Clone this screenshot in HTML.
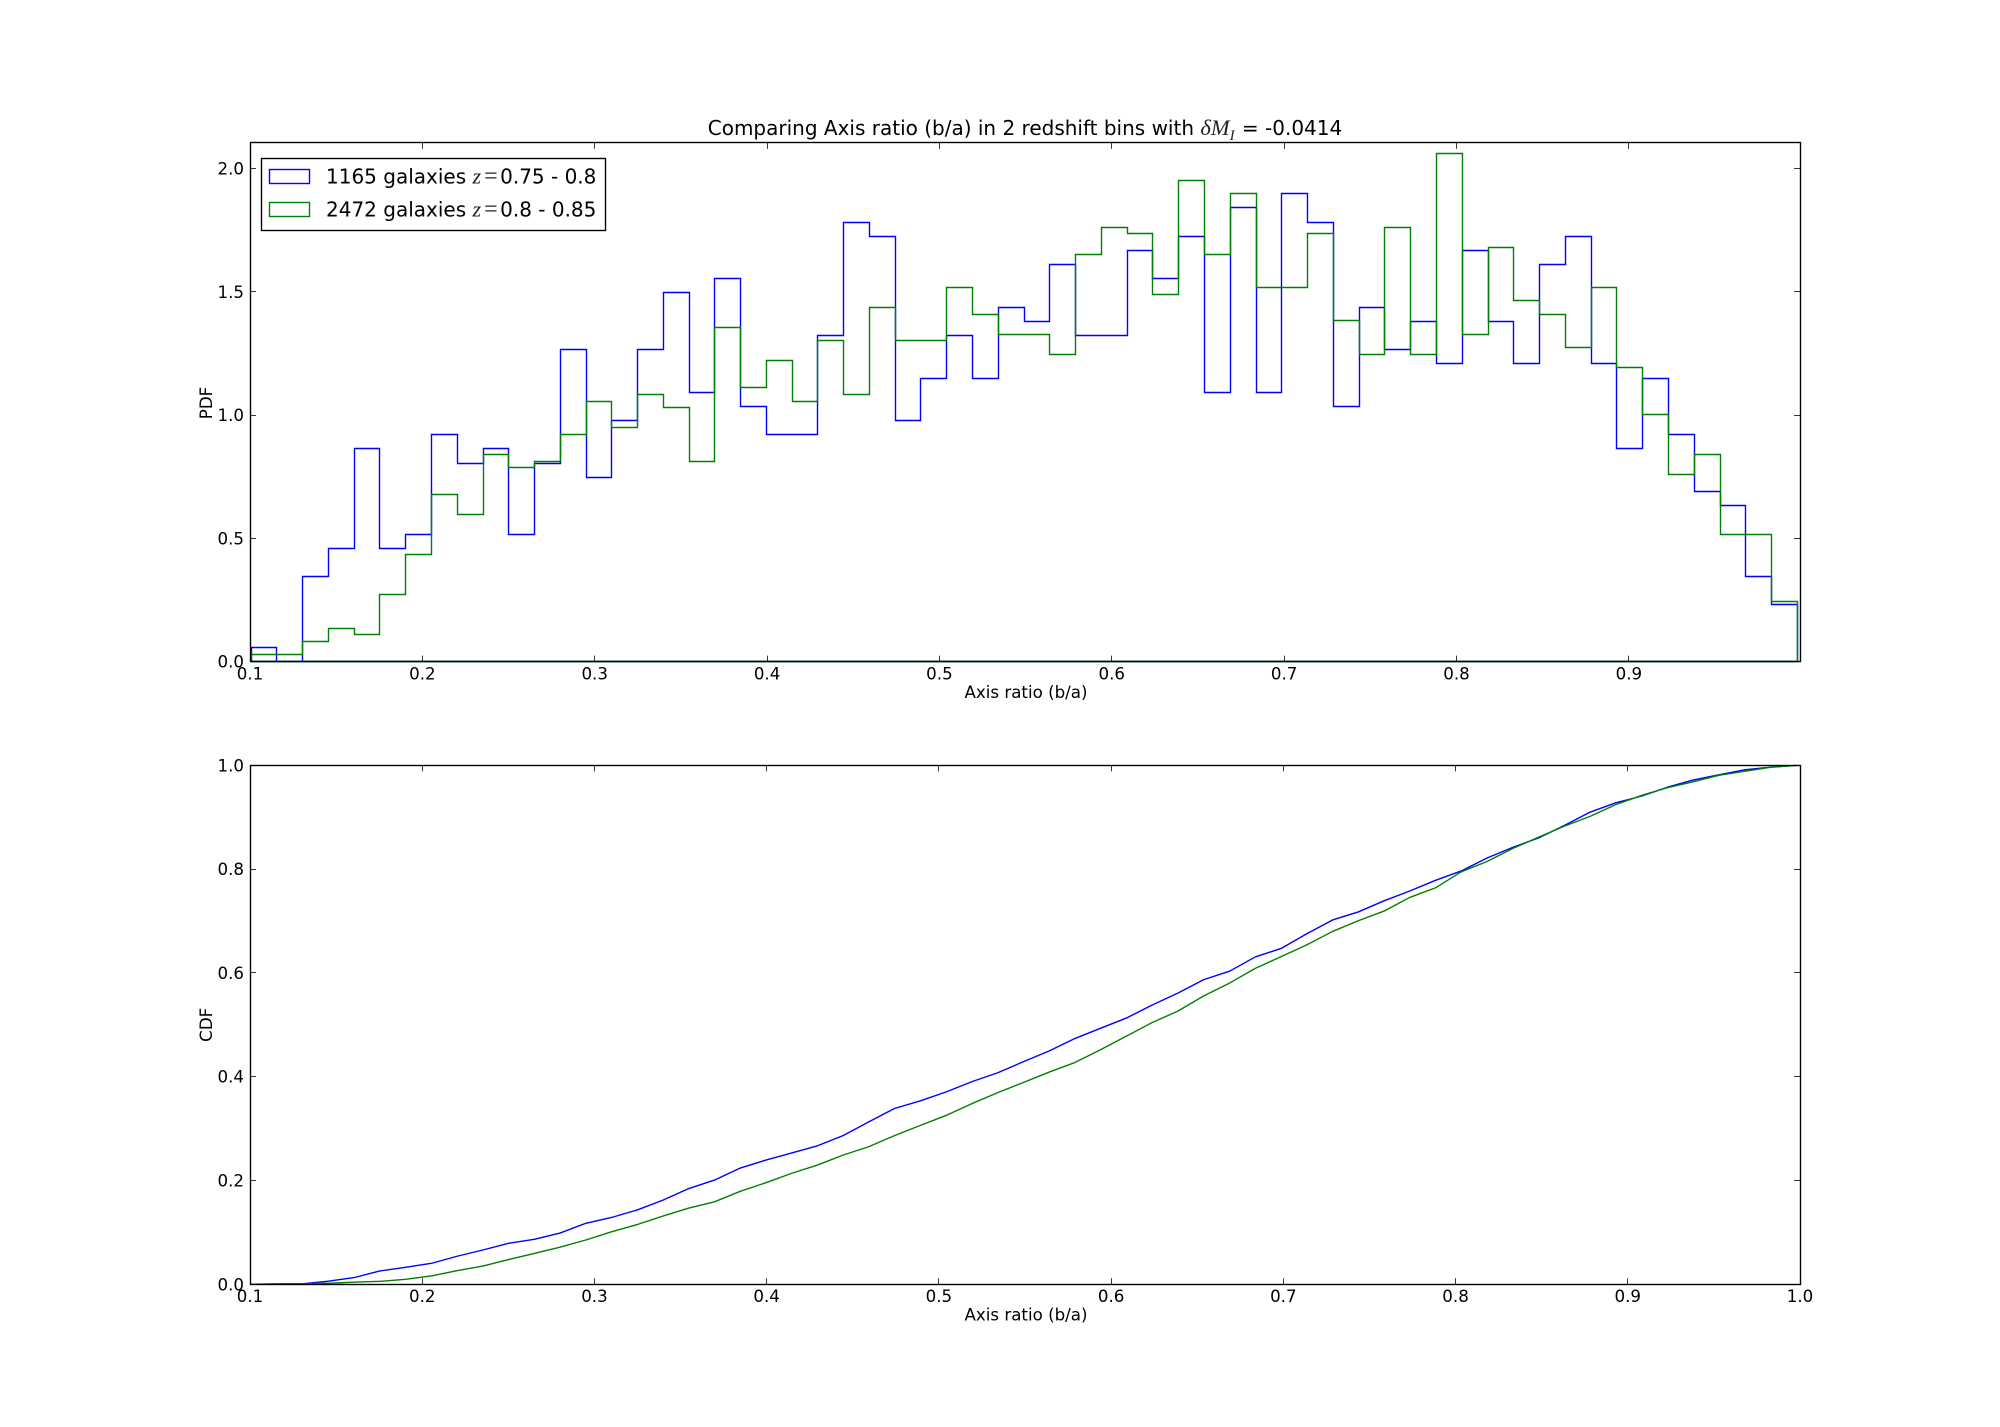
<!DOCTYPE html>
<html lang="en">
<head>
<meta charset="utf-8">
<title>Comparing Axis ratio (b/a) in 2 redshift bins</title>
<style>
html,body{margin:0;padding:0;background:#fff;}
svg{display:block;}
text{font-family:"DejaVu Sans","Liberation Sans",sans-serif;fill:#000;}
.math{font-family:"Liberation Serif","DejaVu Serif",serif;font-style:italic;fill:#222;}
.mathup{font-family:"Liberation Serif","DejaVu Serif",serif;fill:#222;}
</style>
</head>
<body>
<svg id="figure" xmlns="http://www.w3.org/2000/svg" width="2000" height="1427" viewBox="0 0 2000 1427">
  <rect x="0" y="0" width="2000" height="1427" fill="#fff"/>
  <text x="1025" y="135" font-size="20" text-anchor="middle">Comparing Axis ratio (b/a) in 2 redshift bins with <tspan class="math" font-size="22.5">δM</tspan><tspan class="math" font-size="15" dy="5">I</tspan><tspan dy="-5" dx="1"> = -0.0414</tspan></text>
  <text x="1026" y="698" font-size="16.67" text-anchor="middle">Axis ratio (b/a)</text>
  <text x="1026" y="1320.7" font-size="16.67" text-anchor="middle">Axis ratio (b/a)</text>
  <text transform="translate(212 403) rotate(-90)" font-size="16.67" text-anchor="middle">PDF</text>
  <text transform="translate(212 1024.8) rotate(-90)" font-size="16.67" text-anchor="middle">CDF</text>
  <g id="pdf-axes"></g>
  <g id="cdf-axes"></g>
  <g id="legend">
    <rect x="261.5" y="158.5" width="344" height="72" fill="#fff" stroke="#000" stroke-width="1.39"/>
    <rect x="269.5" y="169.5" width="40" height="14" fill="none" stroke="#0000ff" stroke-width="1.39"/>
    <text x="326" y="183.5" font-size="20">1165 galaxies <tspan class="math" font-size="22">z</tspan><tspan class="mathup" font-size="24" dx="3">=</tspan><tspan dx="2.5">0.75 - 0.8</tspan></text>
    <rect x="269.5" y="202.5" width="40" height="14" fill="none" stroke="#008000" stroke-width="1.39"/>
    <text x="326" y="216.5" font-size="20">2472 galaxies <tspan class="math" font-size="22">z</tspan><tspan class="mathup" font-size="24" dx="3">=</tspan><tspan dx="2.5">0.8 - 0.85</tspan></text>
  </g>
</svg>
<script>
// Histogram bin edges (axis ratio)
const binEdges = [0.1006,0.1156,0.1305,0.1455,0.1604,0.1754,0.1903,0.2053,0.2202,0.2352,0.2501,0.2651,0.2800,0.2950,0.3099,0.3249,0.3398,0.3548,0.3697,0.3847,0.3996,0.4146,0.4295,0.4445,0.4594,0.4744,0.4893,0.5043,0.5192,0.5342,0.5492,0.5641,0.5791,0.5940,0.6090,0.6239,0.6389,0.6538,0.6688,0.6837,0.6987,0.7136,0.7286,0.7435,0.7585,0.7734,0.7884,0.8033,0.8183,0.8332,0.8482,0.8631,0.8781,0.8930,0.9080,0.9230,0.9379,0.9529,0.9678,0.9828,0.9977];
// Galaxies per bin
const blueCounts = [1,0,6,8,15,8,9,16,14,15,9,14,22,13,17,22,26,19,27,18,16,16,23,31,30,17,20,23,20,25,24,28,23,23,29,27,30,19,32,19,33,31,18,25,22,24,21,29,24,21,28,30,21,15,20,16,12,11,6,4];
const greenCounts = [1,1,3,5,4,10,16,25,22,31,29,30,34,39,35,40,38,30,50,41,45,39,48,40,53,48,48,56,52,49,49,46,61,65,64,55,72,61,70,56,56,64,51,46,65,46,76,49,62,54,52,47,56,44,37,28,31,19,19,9];
// Cumulative galaxies at each upper bin edge
const blueCumulative = [1,1,7,15,30,38,47,63,77,92,101,115,137,150,167,189,215,234,261,279,295,311,334,365,395,412,432,455,475,500,524,552,575,598,627,654,684,703,735,754,787,818,836,861,883,907,928,957,981,1002,1030,1060,1081,1096,1116,1132,1144,1155,1161,1165];
const greenCumulative = [1,2,5,10,14,24,40,65,87,118,147,177,211,250,285,325,363,393,443,484,529,568,616,656,709,757,805,861,913,962,1011,1057,1118,1183,1247,1302,1374,1435,1505,1561,1617,1681,1732,1778,1843,1889,1965,2014,2076,2130,2182,2229,2285,2329,2366,2394,2425,2444,2463,2472];
const blueTotal = 1165;
const greenTotal = 2472;
const binWidth = 0.014925;
// Tick labels
const pdfXTicks = ["0.1","0.2","0.3","0.4","0.5","0.6","0.7","0.8","0.9"];
const pdfYTicks = ["0.0","0.5","1.0","1.5","2.0"];
const cdfXTicks = ["0.1","0.2","0.3","0.4","0.5","0.6","0.7","0.8","0.9","1.0"];
const cdfYTicks = ["0.0","0.2","0.4","0.6","0.8","1.0"];

const NS = 'http://www.w3.org/2000/svg';
const BLUE = '#0000ff', GREEN = '#008000', LW = 1.39;
const pdfBox = {l:250, r:1800, t:142.7, b:661.6, x0:0.1, x1:0.9993, y0:0, y1:2.105};
const cdfBox = {l:250, r:1800, t:765.4, b:1284.3, x0:0.1, x1:1.0, y0:0, y1:1.0};
const sx = (b, v) => b.l + (v - b.x0) / (b.x1 - b.x0) * (b.r - b.l);
const sy = (b, v) => b.b - (v - b.y0) / (b.y1 - b.y0) * (b.b - b.t);
const snap = v => Math.round(v - 0.5) + 0.5;
function el(tag, attrs, parent) {
  const e = document.createElementNS(NS, tag);
  for (const k in attrs) e.setAttribute(k, attrs[k]);
  parent.appendChild(e);
  return e;
}
function stepPath(b, counts, total) {
  let d = 'M' + snap(sx(b, binEdges[0])) + ' ' + snap(sy(b, 0));
  counts.forEach((c, i) => {
    const y = snap(sy(b, c / (total * binWidth)));
    d += 'L' + snap(sx(b, binEdges[i])) + ' ' + y + 'L' + snap(sx(b, binEdges[i + 1])) + ' ' + y;
  });
  return d + 'L' + snap(sx(b, binEdges[binEdges.length - 1])) + ' ' + snap(sy(b, 0)) + 'Z';
}
function cdfPath(b, cum, total) {
  let d = 'M' + sx(b, 0.1).toFixed(2) + ' ' + sy(b, 0).toFixed(2);
  cum.forEach((c, i) => {
    d += 'L' + sx(b, binEdges[i + 1]).toFixed(2) + ' ' + sy(b, c / total).toFixed(2);
  });
  return d;
}
function drawFrame(g, b, xTicks, yTicks, prefix, labelDy) {
  xTicks.forEach(t => {
    const x = snap(sx(b, parseFloat(t)));
    const t1 = el('line', {x1:x, x2:x, y1:b.b, y2:b.b - 6, stroke:'#000', 'stroke-width':0.8}, g);
    
    
    const t2 = el('line', {x1:x, x2:x, y1:b.t, y2:b.t + 6, stroke:'#000', 'stroke-width':0.8}, g);
    
    
    const lab = el('text', {x:sx(b, parseFloat(t)), y:b.b + labelDy, 'font-size':16.67, 'text-anchor':'middle'}, g);
    lab.textContent = t;
    
    
  });
  yTicks.forEach(t => {
    const y = snap(sy(b, parseFloat(t)));
    const t1 = el('line', {x1:b.l, x2:b.l + 6, y1:y, y2:y, stroke:'#000', 'stroke-width':0.8}, g);
    
    
    const t2 = el('line', {x1:b.r, x2:b.r - 6, y1:y, y2:y, stroke:'#000', 'stroke-width':0.8}, g);
    
    
    const lab = el('text', {x:b.l - 6, y:sy(b, parseFloat(t)) + 6, 'font-size':16.67, 'text-anchor':'end'}, g);
    lab.textContent = t;
    
    
  });
  const frame = el('rect', {x:snap(b.l), y:snap(b.t), width:snap(b.r) - snap(b.l), height:snap(b.b) - snap(b.t), fill:'none', stroke:'#000', 'stroke-width':LW}, g);
  
  
}

const pdfG = document.getElementById('pdf-axes');
const cdfG = document.getElementById('cdf-axes');

const pdfBlue = el('path', {d:stepPath(pdfBox, blueCounts, blueTotal), fill:'none', stroke:BLUE, 'stroke-width':LW, 'stroke-linejoin':'miter'}, pdfG);


const pdfGreen = el('path', {d:stepPath(pdfBox, greenCounts, greenTotal), fill:'none', stroke:GREEN, 'stroke-width':LW, 'stroke-linejoin':'miter'}, pdfG);


drawFrame(pdfG, pdfBox, pdfXTicks, pdfYTicks, 'pdf', 17.8);

const cdfBlue = el('path', {d:cdfPath(cdfBox, blueCumulative, blueTotal), fill:'none', stroke:BLUE, 'stroke-width':LW, 'stroke-linejoin':'round'}, cdfG);


const cdfGreen = el('path', {d:cdfPath(cdfBox, greenCumulative, greenTotal), fill:'none', stroke:GREEN, 'stroke-width':LW, 'stroke-linejoin':'round'}, cdfG);


drawFrame(cdfG, cdfBox, cdfXTicks, cdfYTicks, 'cdf', 17.8);
</script>
</body>
</html>
